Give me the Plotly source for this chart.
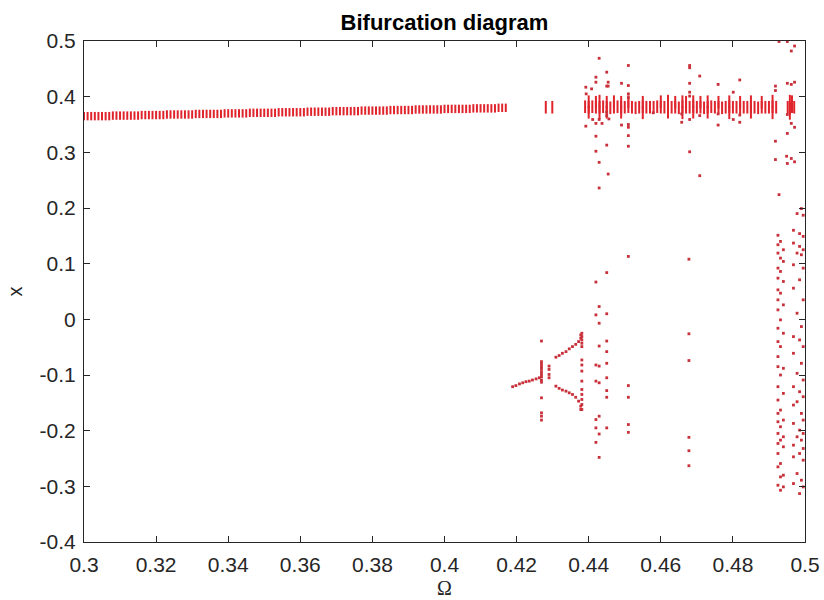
import plotly.graph_objects as go

# ---------------- data ----------------
# Period-1 branch, low Omega
band1_omega = [
    0.300, 0.301, 0.302, 0.303, 0.304, 0.305, 0.306, 0.307, 0.308, 0.309,
    0.310, 0.311, 0.312, 0.313, 0.314, 0.315, 0.316, 0.317, 0.318, 0.319,
    0.320, 0.321, 0.322, 0.323, 0.324, 0.325, 0.326, 0.327, 0.328, 0.329,
    0.330, 0.331, 0.332, 0.333, 0.334, 0.335, 0.336, 0.337, 0.338, 0.339,
    0.340, 0.341, 0.342, 0.343, 0.344, 0.345, 0.346, 0.347, 0.348, 0.349,
    0.350, 0.351, 0.352, 0.353, 0.354, 0.355, 0.356, 0.357, 0.358, 0.359,
    0.360, 0.361, 0.362, 0.363, 0.364, 0.365, 0.366, 0.367, 0.368, 0.369,
    0.370, 0.371, 0.372, 0.373, 0.374, 0.375, 0.376, 0.377, 0.378, 0.379,
    0.380, 0.381, 0.382, 0.383, 0.384, 0.385, 0.386, 0.387, 0.388, 0.389,
    0.390, 0.391, 0.392, 0.393, 0.394, 0.395, 0.396, 0.397, 0.398, 0.399,
    0.400, 0.401, 0.402, 0.403, 0.404, 0.405, 0.406, 0.407, 0.408, 0.409,
    0.410, 0.411, 0.412, 0.413, 0.414, 0.415, 0.416, 0.417,
]
band1_x = [
    0.365, 0.365, 0.365, 0.365, 0.365, 0.365, 0.365, 0.365, 0.366, 0.366,
    0.366, 0.366, 0.366, 0.366, 0.366, 0.366, 0.367, 0.367, 0.367, 0.367,
    0.367, 0.367, 0.367, 0.368, 0.368, 0.368, 0.368, 0.368, 0.368, 0.368,
    0.368, 0.369, 0.369, 0.369, 0.369, 0.369, 0.369, 0.369, 0.369, 0.370,
    0.370, 0.370, 0.370, 0.370, 0.370, 0.370, 0.371, 0.371, 0.371, 0.371,
    0.371, 0.371, 0.371, 0.371, 0.372, 0.372, 0.372, 0.372, 0.372, 0.372,
    0.372, 0.372, 0.373, 0.373, 0.373, 0.373, 0.373, 0.373, 0.373, 0.374,
    0.374, 0.374, 0.374, 0.374, 0.374, 0.374, 0.374, 0.375, 0.375, 0.375,
    0.375, 0.375, 0.375, 0.375, 0.375, 0.376, 0.376, 0.376, 0.376, 0.376,
    0.376, 0.376, 0.377, 0.377, 0.377, 0.377, 0.377, 0.377, 0.377, 0.377,
    0.378, 0.378, 0.378, 0.378, 0.378, 0.378, 0.378, 0.378, 0.379, 0.379,
    0.379, 0.379, 0.379, 0.379, 0.379, 0.380, 0.380, 0.380,
]

# Period-1 branch, high Omega (plus the two isolated dashes near 0.428)
band2_omega = [
    0.4281, 0.4299,
    0.439, 0.440, 0.441, 0.442, 0.443, 0.444, 0.445, 0.446, 0.447, 0.448,
    0.449, 0.450, 0.451, 0.452, 0.453, 0.454, 0.455, 0.456, 0.457, 0.458,
    0.459, 0.460, 0.461, 0.462, 0.463, 0.464, 0.465, 0.466, 0.467, 0.468,
    0.469, 0.470, 0.471, 0.472, 0.473, 0.474, 0.475, 0.476, 0.477, 0.478,
    0.479, 0.480, 0.481, 0.482, 0.483, 0.484, 0.485, 0.486, 0.487, 0.488,
    0.489, 0.490, 0.491, 0.492,
    0.4952, 0.4958, 0.4964, 0.4970,
    0.440, 0.442, 0.443, 0.445, 0.447, 0.449, 0.451, 0.455, 0.460, 0.462,
    0.464, 0.466, 0.467, 0.469, 0.471, 0.473, 0.476, 0.479, 0.482, 0.485,
    0.488, 0.491, 0.4958, 0.4964,
    0.440, 0.443, 0.445, 0.449, 0.455, 0.462, 0.466, 0.469, 0.473, 0.479,
    0.485, 0.491, 0.4958,
]
band2_x = [
    0.381, 0.381,
    0.382, 0.381, 0.382, 0.381, 0.381, 0.382, 0.381, 0.380, 0.381, 0.382,
    0.381, 0.381, 0.382, 0.381, 0.380, 0.381, 0.382, 0.381, 0.381, 0.381,
    0.382, 0.381, 0.381, 0.382, 0.381, 0.381, 0.380, 0.382, 0.381, 0.381,
    0.382, 0.381, 0.381, 0.380, 0.381, 0.382, 0.381, 0.381, 0.380, 0.381,
    0.382, 0.381, 0.381, 0.380, 0.381, 0.381, 0.382, 0.381, 0.380, 0.381,
    0.381, 0.381, 0.382, 0.381,
    0.381, 0.380, 0.382, 0.381,
    0.391, 0.390, 0.392, 0.390, 0.391, 0.390, 0.391, 0.390, 0.391, 0.392,
    0.390, 0.391, 0.390, 0.391, 0.390, 0.391, 0.390, 0.391, 0.390, 0.391,
    0.390, 0.392, 0.392, 0.391,
    0.372, 0.371, 0.372, 0.372, 0.371, 0.372, 0.371, 0.372, 0.372, 0.371,
    0.372, 0.371, 0.370,
]

# Scattered (chaotic / transient / period-doubling) points
dots_omega = [
    # upper scatter around the high branch
    0.4429, 0.4510, 0.4680, 0.4680, 0.4420, 0.4420, 0.4450, 0.4454, 0.4450, 0.4454,
    0.4491, 0.4510, 0.4392, 0.4408, 0.4708, 0.4680, 0.4759, 0.4819, 0.4801, 0.4680,
    0.4680, 0.4393, 0.4510, 0.4510,
    0.4579, 0.4658, 0.4658, 0.4680, 0.4708, 0.4759, 0.4759, 0.4801, 0.4819, 0.4819,
    0.4392, 0.4411, 0.4420, 0.4429, 0.4437, 0.4450, 0.4456, 0.4450, 0.4491, 0.4510,
    0.4510, 0.4420, 0.4510, 0.4450, 0.4510, 0.4420, 0.4680, 0.4429, 0.4454, 0.4708,
    0.4429,
    # period-doubling cascade
    0.4189, 0.4198, 0.4208, 0.4217, 0.4226, 0.4235, 0.4244, 0.4254, 0.4263,
    0.4269, 0.4269, 0.4269, 0.4269, 0.4269, 0.4269, 0.4269, 0.4269, 0.4269, 0.4269,
    0.4269, 0.4269, 0.4269, 0.4269,
    0.4290, 0.4290, 0.4290, 0.4290,
    0.4309, 0.4318, 0.4327, 0.4337, 0.4346, 0.4355, 0.4364, 0.4372, 0.4378, 0.4378,
    0.4309, 0.4318, 0.4327, 0.4337, 0.4346, 0.4355, 0.4364, 0.4372, 0.4378, 0.4378,
    0.4381, 0.4381, 0.4381, 0.4381, 0.4381, 0.4381, 0.4381, 0.4381, 0.4381, 0.4381,
    0.4381, 0.4381, 0.4381, 0.4381,
    # lower scatter 0.44 - 0.45
    0.4510, 0.4450, 0.4420, 0.4429, 0.4420, 0.4450, 0.4429, 0.4450, 0.4429, 0.4450,
    0.4420, 0.4429, 0.4450, 0.4450, 0.4420, 0.4429, 0.4450, 0.4450, 0.4510, 0.4510,
    0.4429, 0.4420, 0.4450, 0.4420, 0.4429, 0.4420, 0.4510, 0.4510, 0.4429,
    # column near 0.468
    0.4678, 0.4678, 0.4678, 0.4678, 0.4678, 0.4678,
    # right-hand chaotic region, upper part
    0.4918, 0.4918, 0.4951, 0.4962, 0.4971, 0.4962, 0.4971, 0.4928, 0.4951, 0.4918,
    0.4918, 0.4949, 0.4962, 0.4971, 0.4951, 0.4928, 0.4951, 0.4971, 0.4951, 0.4962,
    # right-hand chaotic region, column A
    0.4925, 0.4932, 0.4925, 0.4940, 0.4925, 0.4932, 0.4940, 0.4925, 0.4932, 0.4925,
    0.4940, 0.4925, 0.4932, 0.4925, 0.4940, 0.4925, 0.4932, 0.4925, 0.4940, 0.4925,
    0.4932, 0.4925, 0.4925, 0.4940, 0.4932, 0.4925, 0.4940, 0.4925, 0.4932, 0.4925,
    0.4940, 0.4925, 0.4932, 0.4925, 0.4940, 0.4932, 0.4925, 0.4940, 0.4925, 0.4932,
    0.4925, 0.4940, 0.4932, 0.4925, 0.4940, 0.4932,
    # right-hand chaotic region, column B
    0.4990, 0.4978, 0.4995, 0.4968, 0.4985, 0.4995, 0.4968, 0.4985, 0.4995, 0.4978,
    0.4990, 0.4968, 0.4995, 0.4985, 0.4968, 0.4995, 0.4978, 0.4990, 0.4968, 0.4985,
    0.4995, 0.4968, 0.4990, 0.4978, 0.4995, 0.4968, 0.4985, 0.4995, 0.4978, 0.4968,
    0.4990, 0.4995, 0.4968, 0.4985, 0.4995, 0.4978, 0.4990, 0.4968, 0.4995, 0.4985,
    0.4968, 0.4995, 0.4978, 0.4990, 0.4968, 0.4995, 0.4985,
]
dots_x = [
    0.469, 0.456, 0.456, 0.452, 0.435, 0.426, 0.444, 0.426, 0.419, 0.419,
    0.424, 0.420, 0.417, 0.414, 0.437, 0.424, 0.422, 0.430, 0.408, 0.408,
    0.401, 0.405, 0.405, 0.398,
    0.371, 0.369, 0.354, 0.359, 0.366, 0.369, 0.349, 0.359, 0.367, 0.354,
    0.347, 0.359, 0.352, 0.359, 0.352, 0.366, 0.360, 0.372, 0.349, 0.350,
    0.345, 0.329, 0.330, 0.313, 0.311, 0.302, 0.301, 0.282, 0.261, 0.258,
    0.236,
    -0.121, -0.119, -0.116, -0.114, -0.112, -0.111, -0.109, -0.107, -0.105,
    -0.039, -0.076, -0.081, -0.085, -0.089, -0.094, -0.099, -0.103, -0.109, -0.113,
    -0.141, -0.168, -0.174, -0.181,
    -0.084, -0.090, -0.099, -0.105,
    -0.068, -0.065, -0.061, -0.058, -0.053, -0.049, -0.045, -0.040, -0.034, -0.028,
    -0.120, -0.124, -0.127, -0.129, -0.132, -0.135, -0.140, -0.147, -0.156, -0.162,
    -0.025, -0.031, -0.037, -0.043, -0.049, -0.073, -0.082, -0.093, -0.111, -0.126,
    -0.135, -0.144, -0.153, -0.162,
    0.113, 0.084, 0.067, 0.023, 0.008, 0.010, -0.007, -0.039, -0.048, -0.058,
    -0.082, -0.084, -0.079, -0.105, -0.111, -0.114, -0.128, -0.140, -0.119, -0.140,
    -0.174, -0.180, -0.195, -0.195, -0.206, -0.221, -0.189, -0.203, -0.248,
    0.108, -0.026, -0.074, -0.212, -0.236, -0.263,
    0.419, 0.411, 0.424, 0.422, 0.426, 0.482, 0.491, 0.499, 0.499, 0.320,
    0.287, 0.293, 0.289, 0.283, 0.280, 0.224, 0.334, 0.345, 0.368, 0.352,
    0.151, 0.140, 0.134, 0.125, 0.119, 0.110, 0.104, 0.092, 0.086, 0.074,
    0.068, 0.053, 0.047, 0.035, 0.026, 0.017, -0.001, -0.016, -0.025, -0.040,
    -0.049, -0.067, -0.085, -0.088, -0.100, -0.121, -0.133, -0.145, -0.163, -0.169,
    -0.181, -0.184, -0.193, -0.205, -0.211, -0.217, -0.223, -0.229, -0.241, -0.259,
    -0.265, -0.280, -0.283, -0.298, -0.301, -0.307,
    0.199, 0.190, 0.187, 0.160, 0.154, 0.149, 0.137, 0.131, 0.125, 0.119,
    0.116, 0.098, 0.092, 0.071, 0.056, 0.035, 0.011, -0.013, -0.031, -0.037,
    -0.049, -0.061, -0.079, -0.097, -0.109, -0.121, -0.130, -0.139, -0.148, -0.154,
    -0.169, -0.181, -0.187, -0.199, -0.205, -0.211, -0.217, -0.226, -0.232, -0.241,
    -0.247, -0.253, -0.277, -0.289, -0.295, -0.301, -0.313,
]

x_ticks = [0.30, 0.32, 0.34, 0.36, 0.38, 0.40, 0.42, 0.44, 0.46, 0.48, 0.50]
x_tick_labels = ["0.3", "0.32", "0.34", "0.36", "0.38", "0.4", "0.42", "0.44", "0.46", "0.48", "0.5"]
y_ticks = [-0.4, -0.3, -0.2, -0.1, 0.0, 0.1, 0.2, 0.3, 0.4, 0.5]
y_tick_labels = ["-0.4", "-0.3", "-0.2", "-0.1", "0", "0.1", "0.2", "0.3", "0.4", "0.5"]

# ---------------- figure ----------------
RED = "#e0242c"
DOT = "#c8303a"
FONT = "Liberation Sans, Arial, Helvetica, sans-serif"

fig = go.Figure()
fig.add_trace(go.Scatter(
    x=band1_omega, y=band1_x, mode="markers", hoverinfo="skip",
    marker=dict(symbol="line-ns", size=6, line=dict(width=2, color=RED)),
))
fig.add_trace(go.Scatter(
    x=band2_omega, y=band2_x, mode="markers", hoverinfo="skip",
    marker=dict(symbol="line-ns", size=9, line=dict(width=2, color=RED)),
))
fig.add_trace(go.Scatter(
    x=dots_omega, y=dots_x, mode="markers", hoverinfo="skip",
    marker=dict(symbol="square", size=2.8, color=DOT, line=dict(width=0)),
))

axis_common = dict(
    showgrid=False, zeroline=False, showline=True, linecolor="#262626", linewidth=1,
    mirror="ticks", ticks="inside", ticklen=6, tickwidth=1, tickcolor="#262626",
    tickfont=dict(family=FONT, size=21, color="#262626"), automargin=False,
)

fig.update_layout(
    width=824, height=600,
    margin=dict(l=84, r=19, t=41, b=58),
    paper_bgcolor="white", plot_bgcolor="white",
    showlegend=False,
    title=dict(text="<b>Bifurcation diagram</b>", x=0.5, xref="paper",
               y=1 - 22 / 600, yref="container", yanchor="middle",
               font=dict(family=FONT, size=22, color="black")),
    xaxis=dict(range=[0.3, 0.5], tickvals=x_ticks, ticktext=x_tick_labels,
               ticklabelstandoff=4, **axis_common),
    yaxis=dict(range=[-0.4, 0.5], tickvals=y_ticks, ticktext=y_tick_labels,
               ticklabelstandoff=3, **axis_common),
    annotations=[
        dict(text="Ω", xref="paper", yref="paper", x=0.5, y=-46 / 501,
             xanchor="center", yanchor="middle", showarrow=False,
             font=dict(family="Liberation Serif, DejaVu Serif, serif", size=20, color="#262626")),
        dict(text="x", xref="paper", yref="paper", x=-70 / 721, y=0.5,
             xanchor="center", yanchor="middle", showarrow=False, textangle=-90,
             font=dict(family=FONT, size=20, color="#262626")),
    ],
)

# remove the default page margin so the 824x600 figure fills the window exactly
fig.write_html("out.html", config={"displayModeBar": False},
               post_script="document.body.style.margin='0';document.body.style.overflow='hidden';")
